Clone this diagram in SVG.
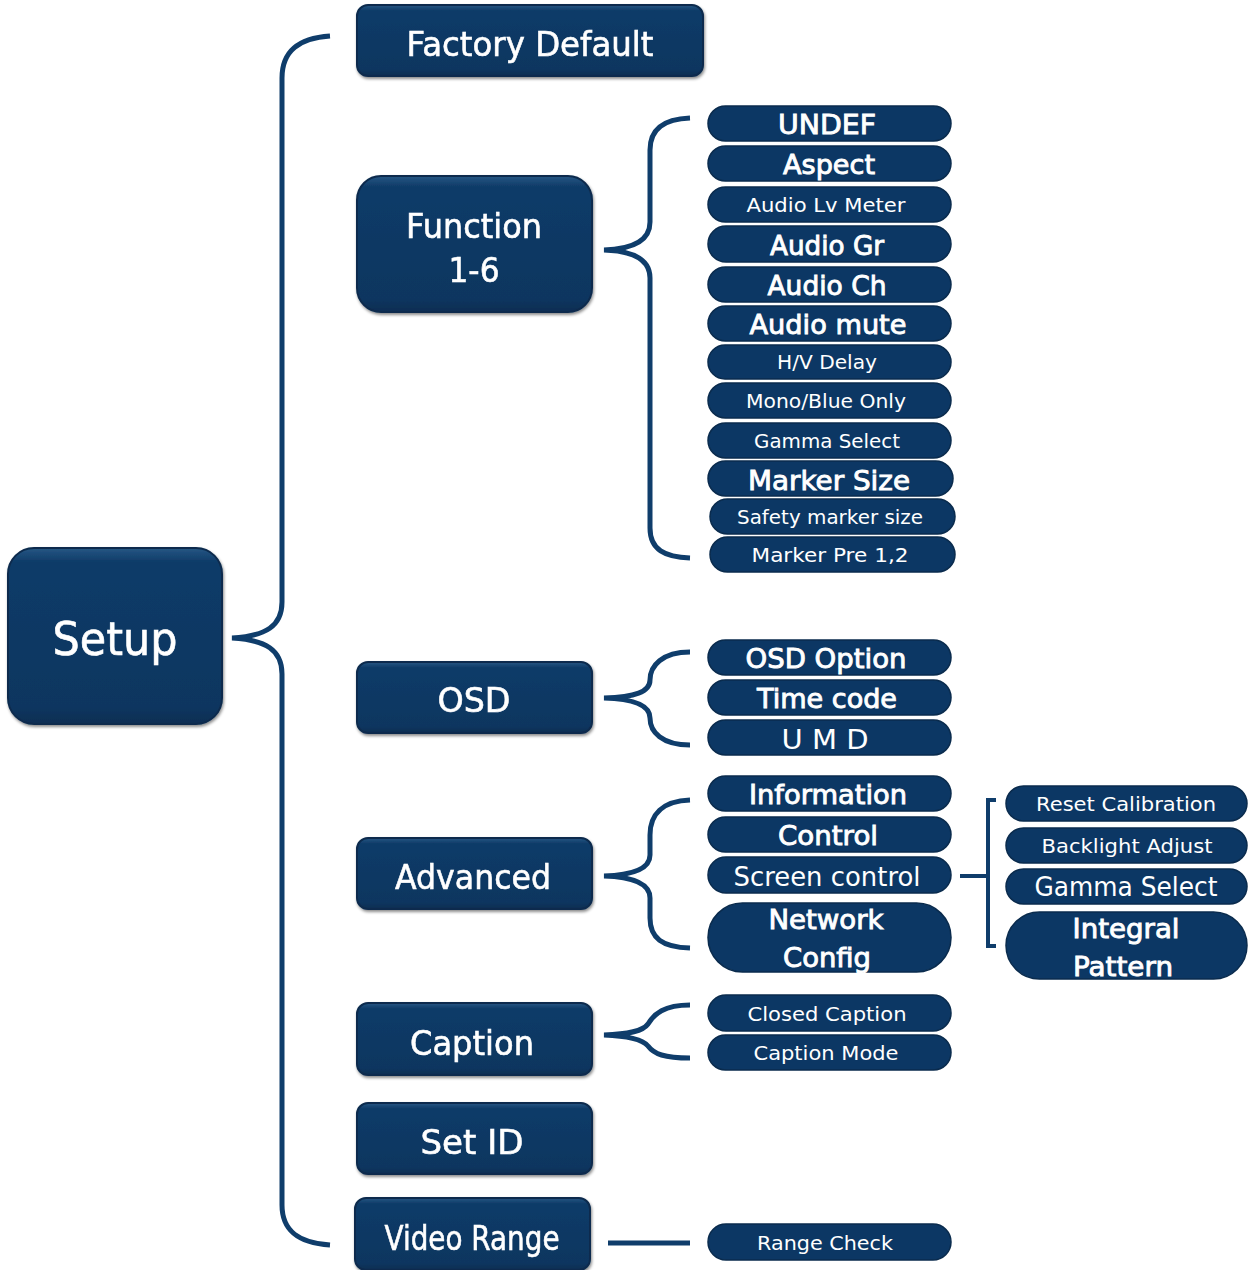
<svg xmlns="http://www.w3.org/2000/svg" width="1248" height="1270" viewBox="0 0 1248 1270">
<style>
.box{fill:url(#g);stroke:#0a2b4d;stroke-width:2}
.pill{fill:#0c3764;stroke:#0a2b4d;stroke-width:1.5}
.br{fill:none;stroke:#0f3d6b;stroke-width:5;stroke-linecap:butt}
text{font-family:"DejaVu Sans","Liberation Sans",sans-serif;fill:#ffffff;text-anchor:middle}
.b{font-size:34px;stroke:#ffffff;stroke-width:0.6}
.p{font-size:27px;stroke:#ffffff;stroke-width:0.9}
.r{font-size:27px}
.s{font-size:20px}
</style>
<defs>
<linearGradient id="g" x1="0" y1="0" x2="0" y2="1">
<stop offset="0" stop-color="#275784"/>
<stop offset="0.08" stop-color="#0e3b68"/>
<stop offset="0.9" stop-color="#0c3660"/>
<stop offset="1" stop-color="#0a2d52"/>
</linearGradient>
<filter id="sh" x="-10%" y="-10%" width="120%" height="130%">
<feDropShadow dx="1" dy="2" stdDeviation="1.5" flood-color="#000" flood-opacity="0.45"/>
</filter>
</defs>
<rect width="1248" height="1270" fill="#ffffff"/>
<g id="connectors">
<path class="br" d="M330,36 C300,38 282,50 282,78 L282,602 C282,626 266,636 232,638 C266,640 282,650 282,674 L282,1205 C282,1232 300,1243 330,1245"/>
<path class="br" d="M690,118 C665,119 650,128 650,150 L650,222 C650,240 635,249 604,250 C635,251 650,260 650,278 L650,528 C650,550 665,557 690,558"/>
<path class="br" d="M690,652 C662,652 650,666 650,680 C650,692 635,697 604,698 C635,699 650,706 650,718 C650,732 662,745 690,745"/>
<path class="br" d="M690,800 C662,801 650,815 650,835 L650,855 C650,868 635,875 604,876 C635,877 650,884 650,898 L650,918 C650,938 662,947 690,948"/>
<path class="br" d="M690,1005 C664,1005 654,1014 648,1024 C643,1031 630,1034 604,1035 C630,1036 643,1040 648,1046 C654,1054 664,1058 690,1058"/>
<path class="br" d="M608,1243 L690,1243"/>
<path class="br" style="stroke-width:4" d="M996,800 L988,800 L988,946 L996,946 M960,876 L988,876"/>
</g>
<g id="setup" filter="url(#sh)"><rect class="box" x="8" y="548" width="214" height="176" rx="26"/><text x="115" y="655" style="font-size:46px;stroke:#fff;stroke-width:0.6" textLength="125" lengthAdjust="spacingAndGlyphs">Setup</text></g>
<g id="factory-default" filter="url(#sh)"><rect class="box" x="357" y="5" width="346" height="71" rx="11"/><text class="b" x="530" y="56" textLength="247" lengthAdjust="spacingAndGlyphs">Factory Default</text></g>
<g id="function" filter="url(#sh)"><rect class="box" x="357" y="176" width="235" height="136" rx="24"/><text class="b" x="474" y="238" textLength="136" lengthAdjust="spacingAndGlyphs">Function</text><text class="b" x="474" y="282" textLength="51" lengthAdjust="spacingAndGlyphs">1-6</text></g>
<g id="osd" filter="url(#sh)"><rect class="box" x="357" y="662" width="235" height="71" rx="11"/><text class="b" x="474" y="712" textLength="73" lengthAdjust="spacingAndGlyphs">OSD</text></g>
<g id="advanced" filter="url(#sh)"><rect class="box" x="357" y="838" width="235" height="71" rx="11"/><text class="b" x="473" y="889" textLength="156" lengthAdjust="spacingAndGlyphs">Advanced</text></g>
<g id="caption" filter="url(#sh)"><rect class="box" x="357" y="1003" width="235" height="72" rx="11"/><text class="b" x="472" y="1055" textLength="124" lengthAdjust="spacingAndGlyphs">Caption</text></g>
<g id="set-id" filter="url(#sh)"><rect class="box" x="357" y="1103" width="235" height="71" rx="11"/><text class="b" x="472" y="1154" textLength="103" lengthAdjust="spacingAndGlyphs">Set ID</text></g>
<g id="video-range" filter="url(#sh)"><rect class="box" x="355" y="1198" width="235" height="72" rx="11"/><text class="b" x="472" y="1250" textLength="175" lengthAdjust="spacingAndGlyphs">Video Range</text></g>

<g id="undef"><rect class="pill" x="708" y="106" width="243" height="35" rx="17.5"/><text class="p" x="827" y="134" textLength="98" lengthAdjust="spacingAndGlyphs">UNDEF</text></g>
<g id="aspect"><rect class="pill" x="708" y="146" width="243" height="35" rx="17.5"/><text class="p" x="829" y="174" textLength="92" lengthAdjust="spacingAndGlyphs">Aspect</text></g>
<g id="audio-lv-meter"><rect class="pill" x="708" y="187" width="243" height="35" rx="17.5"/><text class="s" x="826" y="212" textLength="159" lengthAdjust="spacingAndGlyphs">Audio Lv Meter</text></g>
<g id="audio-gr"><rect class="pill" x="708" y="226" width="243" height="36" rx="18"/><text class="p" x="827" y="255" textLength="114" lengthAdjust="spacingAndGlyphs">Audio Gr</text></g>
<g id="audio-ch"><rect class="pill" x="708" y="267" width="243" height="35" rx="17.5"/><text class="p" x="827" y="295" textLength="119" lengthAdjust="spacingAndGlyphs">Audio Ch</text></g>
<g id="audio-mute"><rect class="pill" x="708" y="306" width="243" height="35" rx="17.5"/><text class="p" x="828" y="334" textLength="157" lengthAdjust="spacingAndGlyphs">Audio mute</text></g>
<g id="hv-delay"><rect class="pill" x="708" y="345" width="243" height="34" rx="17"/><text class="s" x="827" y="369" textLength="100" lengthAdjust="spacingAndGlyphs">H/V Delay</text></g>
<g id="mono-blue"><rect class="pill" x="708" y="383" width="243" height="35" rx="17.5"/><text class="s" x="826" y="408" textLength="160" lengthAdjust="spacingAndGlyphs">Mono/Blue Only</text></g>
<g id="gamma-select-1"><rect class="pill" x="708" y="423" width="243" height="35" rx="17.5"/><text class="s" x="827" y="448" textLength="146" lengthAdjust="spacingAndGlyphs">Gamma Select</text></g>
<g id="marker-size"><rect class="pill" x="708" y="461" width="245" height="35" rx="17.5"/><text class="p" x="829" y="490" textLength="162" lengthAdjust="spacingAndGlyphs">Marker Size</text></g>
<g id="safety-marker-size"><rect class="pill" x="710" y="499" width="245" height="35" rx="17.5"/><text class="s" x="830" y="524" textLength="186" lengthAdjust="spacingAndGlyphs">Safety marker size</text></g>
<g id="marker-pre"><rect class="pill" x="710" y="537" width="245" height="35" rx="17.5"/><text class="s" x="830" y="562" textLength="157" lengthAdjust="spacingAndGlyphs">Marker Pre 1,2</text></g>

<g id="osd-option"><rect class="pill" x="708" y="640" width="243" height="35" rx="17.5"/><text class="p" x="826" y="668" textLength="161" lengthAdjust="spacingAndGlyphs">OSD Option</text></g>
<g id="time-code"><rect class="pill" x="708" y="680" width="243" height="35" rx="17.5"/><text class="p" x="827" y="708" textLength="140" lengthAdjust="spacingAndGlyphs">Time code</text></g>
<g id="umd"><rect class="pill" x="708" y="720" width="243" height="35" rx="17.5"/><text class="r" x="825" y="749" textLength="87" lengthAdjust="spacingAndGlyphs">U M D</text></g>

<g id="information"><rect class="pill" x="708" y="776" width="243" height="35" rx="17.5"/><text class="p" x="828" y="804" textLength="158" lengthAdjust="spacingAndGlyphs">Information</text></g>
<g id="control"><rect class="pill" x="708" y="817" width="243" height="35" rx="17.5"/><text class="p" x="828" y="845" textLength="100" lengthAdjust="spacingAndGlyphs">Control</text></g>
<g id="screen-control"><rect class="pill" x="708" y="857" width="243" height="36" rx="18"/><text class="r" x="827" y="886" textLength="187" lengthAdjust="spacingAndGlyphs">Screen control</text></g>
<g id="network-config"><rect class="pill" x="708" y="903" width="243" height="69" rx="34.5"/><text class="p" x="826" y="929" textLength="115" lengthAdjust="spacingAndGlyphs">Network</text><text class="p" x="827" y="967" textLength="88" lengthAdjust="spacingAndGlyphs">Config</text></g>

<g id="reset-calibration"><rect class="pill" x="1006" y="786" width="241" height="35" rx="17.5"/><text class="s" x="1126" y="811" textLength="180" lengthAdjust="spacingAndGlyphs">Reset Calibration</text></g>
<g id="backlight-adjust"><rect class="pill" x="1006" y="828" width="241" height="35" rx="17.5"/><text class="s" x="1127" y="853" textLength="171" lengthAdjust="spacingAndGlyphs">Backlight Adjust</text></g>
<g id="gamma-select-2"><rect class="pill" x="1006" y="869" width="241" height="35" rx="17.5"/><text x="1126" y="896" style="font-size:26px" textLength="183" lengthAdjust="spacingAndGlyphs">Gamma Select</text></g>
<g id="integral-pattern"><rect class="pill" x="1006" y="912" width="241" height="67" rx="33.5"/><text class="p" x="1126" y="938" textLength="107" lengthAdjust="spacingAndGlyphs">Integral</text><text class="p" x="1123" y="976" textLength="100" lengthAdjust="spacingAndGlyphs">Pattern</text></g>

<g id="closed-caption"><rect class="pill" x="708" y="995" width="243" height="36" rx="18"/><text class="s" x="827" y="1021" textLength="159" lengthAdjust="spacingAndGlyphs">Closed Caption</text></g>
<g id="caption-mode"><rect class="pill" x="708" y="1035" width="243" height="35" rx="17.5"/><text class="s" x="826" y="1060" textLength="145" lengthAdjust="spacingAndGlyphs">Caption Mode</text></g>
<g id="range-check"><rect class="pill" x="708" y="1224" width="243" height="36" rx="18"/><text class="s" x="825" y="1250" textLength="136" lengthAdjust="spacingAndGlyphs">Range Check</text></g>
</svg>
